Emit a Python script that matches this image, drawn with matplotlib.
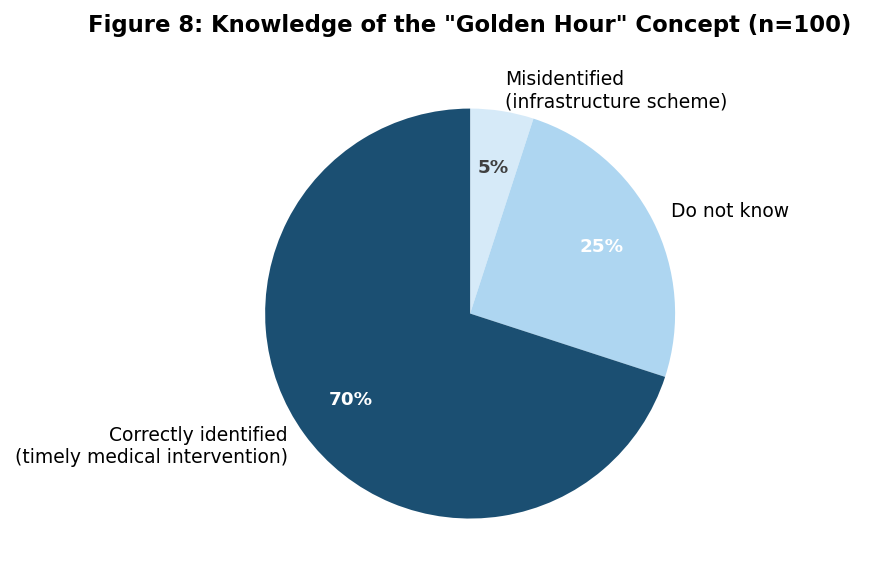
import matplotlib.pyplot as plt

labels = ['Misidentified\n(infrastructure scheme)', 'Do not know',
          'Correctly identified\n(timely medical intervention)']
shares = [5, 25, 70]
colors = ['#d6eaf8', '#aed6f1', '#1b4f72']
pct_colors = ['#404040', 'white', 'white']

fig = plt.figure(figsize=(8.69, 5.85), dpi=100)
ax = fig.add_axes([0.246, 0.026, 0.590, 0.876])

wedges, texts, autotexts = ax.pie(
    shares, labels=labels, colors=colors, startangle=90, counterclock=False,
    autopct='%1.0f%%', pctdistance=0.72, labeldistance=1.1,
    textprops={'fontsize': 13.5})
for t, c in zip(autotexts, pct_colors):
    t.set_color(c)
    t.set_fontweight('bold')
    t.set_fontsize(13.2)
ax.set_aspect('equal')

fig.text(0.541, 0.956, 'Figure 8: Knowledge of the "Golden Hour" Concept (n=100)',
         ha='center', va='center', fontsize=16.4, fontweight='bold')

fig.savefig('out.png', dpi=100)
